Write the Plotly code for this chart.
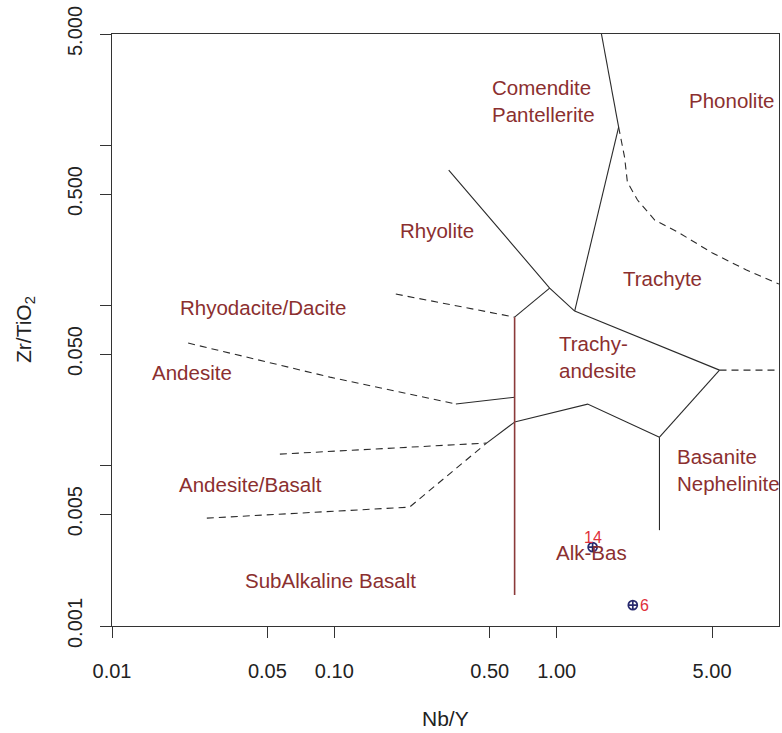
import math
import plotly.graph_objects as go

# Winchester & Floyd (1977) Nb/Y vs Zr/TiO2 classification diagram

# --- field boundaries (Nb/Y, Zr/TiO2) ---
solid_lines = {
    "comendite_phonolite": [(1.59, 5.0), (1.90, 1.31)],
    "comendite_trachyte": [(1.90, 1.31), (1.205, 0.0929)],
    "rhyolite_comendite": [(0.327, 0.706), (0.930, 0.1293), (1.205, 0.0929)],
    "rhyodacite_trachyandesite": [(0.930, 0.1293), (0.647, 0.0851)],
    "trachyte_trachyandesite": [(1.205, 0.0929), (5.40, 0.0397)],
    "trachyandesite_basanite": [(5.40, 0.0397), (2.90, 0.01514)],
    "trachyandesite_alkbas": [(0.647, 0.0188), (1.378, 0.02435), (2.90, 0.01514)],
    "basanite_alkbas": [(2.90, 0.01514), (2.90, 0.00397)],
    "andesite_trachyandesite": [(0.352, 0.0244), (0.647, 0.0269)],
    "andesitebasalt_alkbas": [(0.484, 0.0139), (0.647, 0.0188)],
}
subalkaline_divide = [(0.647, 0.0851), (0.647, 0.00156)]
dashed_lines = {
    "rhyodacite_rhyolite": [(0.189, 0.1186), (0.647, 0.0851)],
    "phonolite_trachyte": [(1.90, 1.31), (2.02, 0.851), (2.08, 0.594), (2.31, 0.459),
                           (2.76, 0.344), (3.57, 0.285), (5.02, 0.214), (7.14, 0.1675),
                           (10.0, 0.137)],
    "phonolite_basanite": [(5.40, 0.0397), (10.0, 0.0397)],
    "rhyodacite_andesite": [(0.0220, 0.0586), (0.0955, 0.0359), (0.352, 0.0244)],
    "andesite_andesitebasalt": [(0.0569, 0.01186), (0.484, 0.0139)],
    "andesitebasalt_subalkaline": [(0.0267, 0.00472), (0.218, 0.00553), (0.484, 0.0139)],
}

# --- field names: (text, Nb/Y, Zr/TiO2, anchor) ---
field_labels = [
    ("Comendite<br>Pantellerite", 0.50, 1.92, "left"),
    ("Phonolite", 6.11, 1.93, "center"),
    ("Rhyolite", 0.289, 0.298, "center"),
    ("Trachyte", 2.995, 0.149, "center"),
    ("Rhyodacite/Dacite", 0.0477, 0.0984, "center"),
    ("Andesite", 0.0229, 0.0386, "center"),
    ("Trachy-<br>andesite", 1.0, 0.0479, "left"),
    ("Andesite/Basalt", 0.0421, 0.0077, "center"),
    ("Basanite<br>Nephelinite", 3.40, 0.00948, "left"),
    ("Alk-Bas", 1.436, 0.00289, "center"),
    ("SubAlkaline Basalt", 0.0964, 0.00193, "center"),
]

# --- samples ---
sample_ids = ["14", "6"]
sample_nb_y = [1.451, 2.20]
sample_zr_tio2 = [0.00311, 0.00135]

# --- axes ---
x_tickvals = [0.01, 0.05, 0.1, 0.5, 1, 5]
x_ticktext = ["0.01", "0.05", "0.10", "0.50", "1.00", "5.00"]
y_tickvals = [0.001, 0.005, 0.05, 0.5, 5]
y_ticktext = ["0.001", "0.005", "0.050", "0.500", "5.000"]
y_minor_tickvals = [0.01, 0.1, 1]

FONT = "Liberation Sans, Arial, sans-serif"
LABEL_COLOR = "#8b2f2f"
AXIS_COLOR = "#333333"

fig = go.Figure()


def add_line(pts, color, dash="solid", width=1.1):
    fig.add_trace(go.Scatter(
        x=[p[0] for p in pts], y=[p[1] for p in pts], mode="lines",
        line=dict(color=color, width=width, dash=dash),
        hoverinfo="skip", showlegend=False,
    ))


for pts in solid_lines.values():
    add_line(pts, "#2a2a2a")
for pts in dashed_lines.values():
    add_line(pts, "#2a2a2a", dash="7px,5px")
add_line(subalkaline_divide, "#8b3a3a", width=1.6)

fig.add_trace(go.Scatter(
    x=sample_nb_y, y=sample_zr_tio2, mode="markers",
    marker=dict(symbol="circle-cross-open", size=9, color="#27296e",
                line=dict(width=1.7, color="#27296e")),
    hoverinfo="skip", showlegend=False,
))

annotations = []
# log axes take annotation positions in log10 units
for text, x, y, anchor in field_labels:
    annotations.append(dict(
        x=math.log10(x), y=math.log10(y), xref="x", yref="y", text=text,
        showarrow=False, xanchor=anchor, yanchor="middle",
        align="left" if anchor == "left" else "center",
        font=dict(family=FONT, size=20.5, color=LABEL_COLOR),
    ))
for i, (sid, x, y) in enumerate(zip(sample_ids, sample_nb_y, sample_zr_tio2)):
    if i == 0:
        shift = dict(xshift=0, yshift=10, xanchor="center")
    else:
        shift = dict(xshift=5, yshift=0, xanchor="left")
    annotations.append(dict(
        x=math.log10(x), y=math.log10(y), xref="x", yref="y", text=sid,
        showarrow=False, yanchor="middle",
        font=dict(family=FONT, size=16, color="#e0303a"), **shift,
    ))

annotations.append(dict(
    x=0.5, y=0, xref="paper", yref="paper", text="Nb/Y", showarrow=False,
    xanchor="center", yanchor="middle", yshift=-92,
    font=dict(family=FONT, size=21, color="#222222"),
))
annotations.append(dict(
    x=0, y=0.5, xref="paper", yref="paper", text="Zr/TiO<sub>2</sub>", showarrow=False,
    xanchor="center", yanchor="middle", xshift=-87, textangle=-90,
    font=dict(family=FONT, size=21, color="#222222"),
))

axis_common = dict(
    type="log", showgrid=False, zeroline=False, showline=True, mirror=True,
    linecolor=AXIS_COLOR, linewidth=1, ticks="outside", ticklen=11,
    tickcolor=AXIS_COLOR, tickwidth=1,
    tickfont=dict(family=FONT, size=20, color="#222222"),
)

fig.update_layout(
    width=782, height=733,
    margin=dict(l=112, r=3, t=34, b=107),
    paper_bgcolor="white", plot_bgcolor="white",
    xaxis=dict(range=[-2, 1], tickvals=x_tickvals, ticktext=x_ticktext,
               ticklabelstandoff=16, **axis_common),
    yaxis=dict(range=[-3, 0.69897], tickvals=y_tickvals, ticktext=y_ticktext,
               tickangle=-90, ticklabelstandoff=10,
               minor=dict(tickvals=y_minor_tickvals, ticks="outside", ticklen=11,
                          tickcolor=AXIS_COLOR, tickwidth=1, showgrid=False),
               **axis_common),
    annotations=annotations,
)

fig.write_html("out.html")
